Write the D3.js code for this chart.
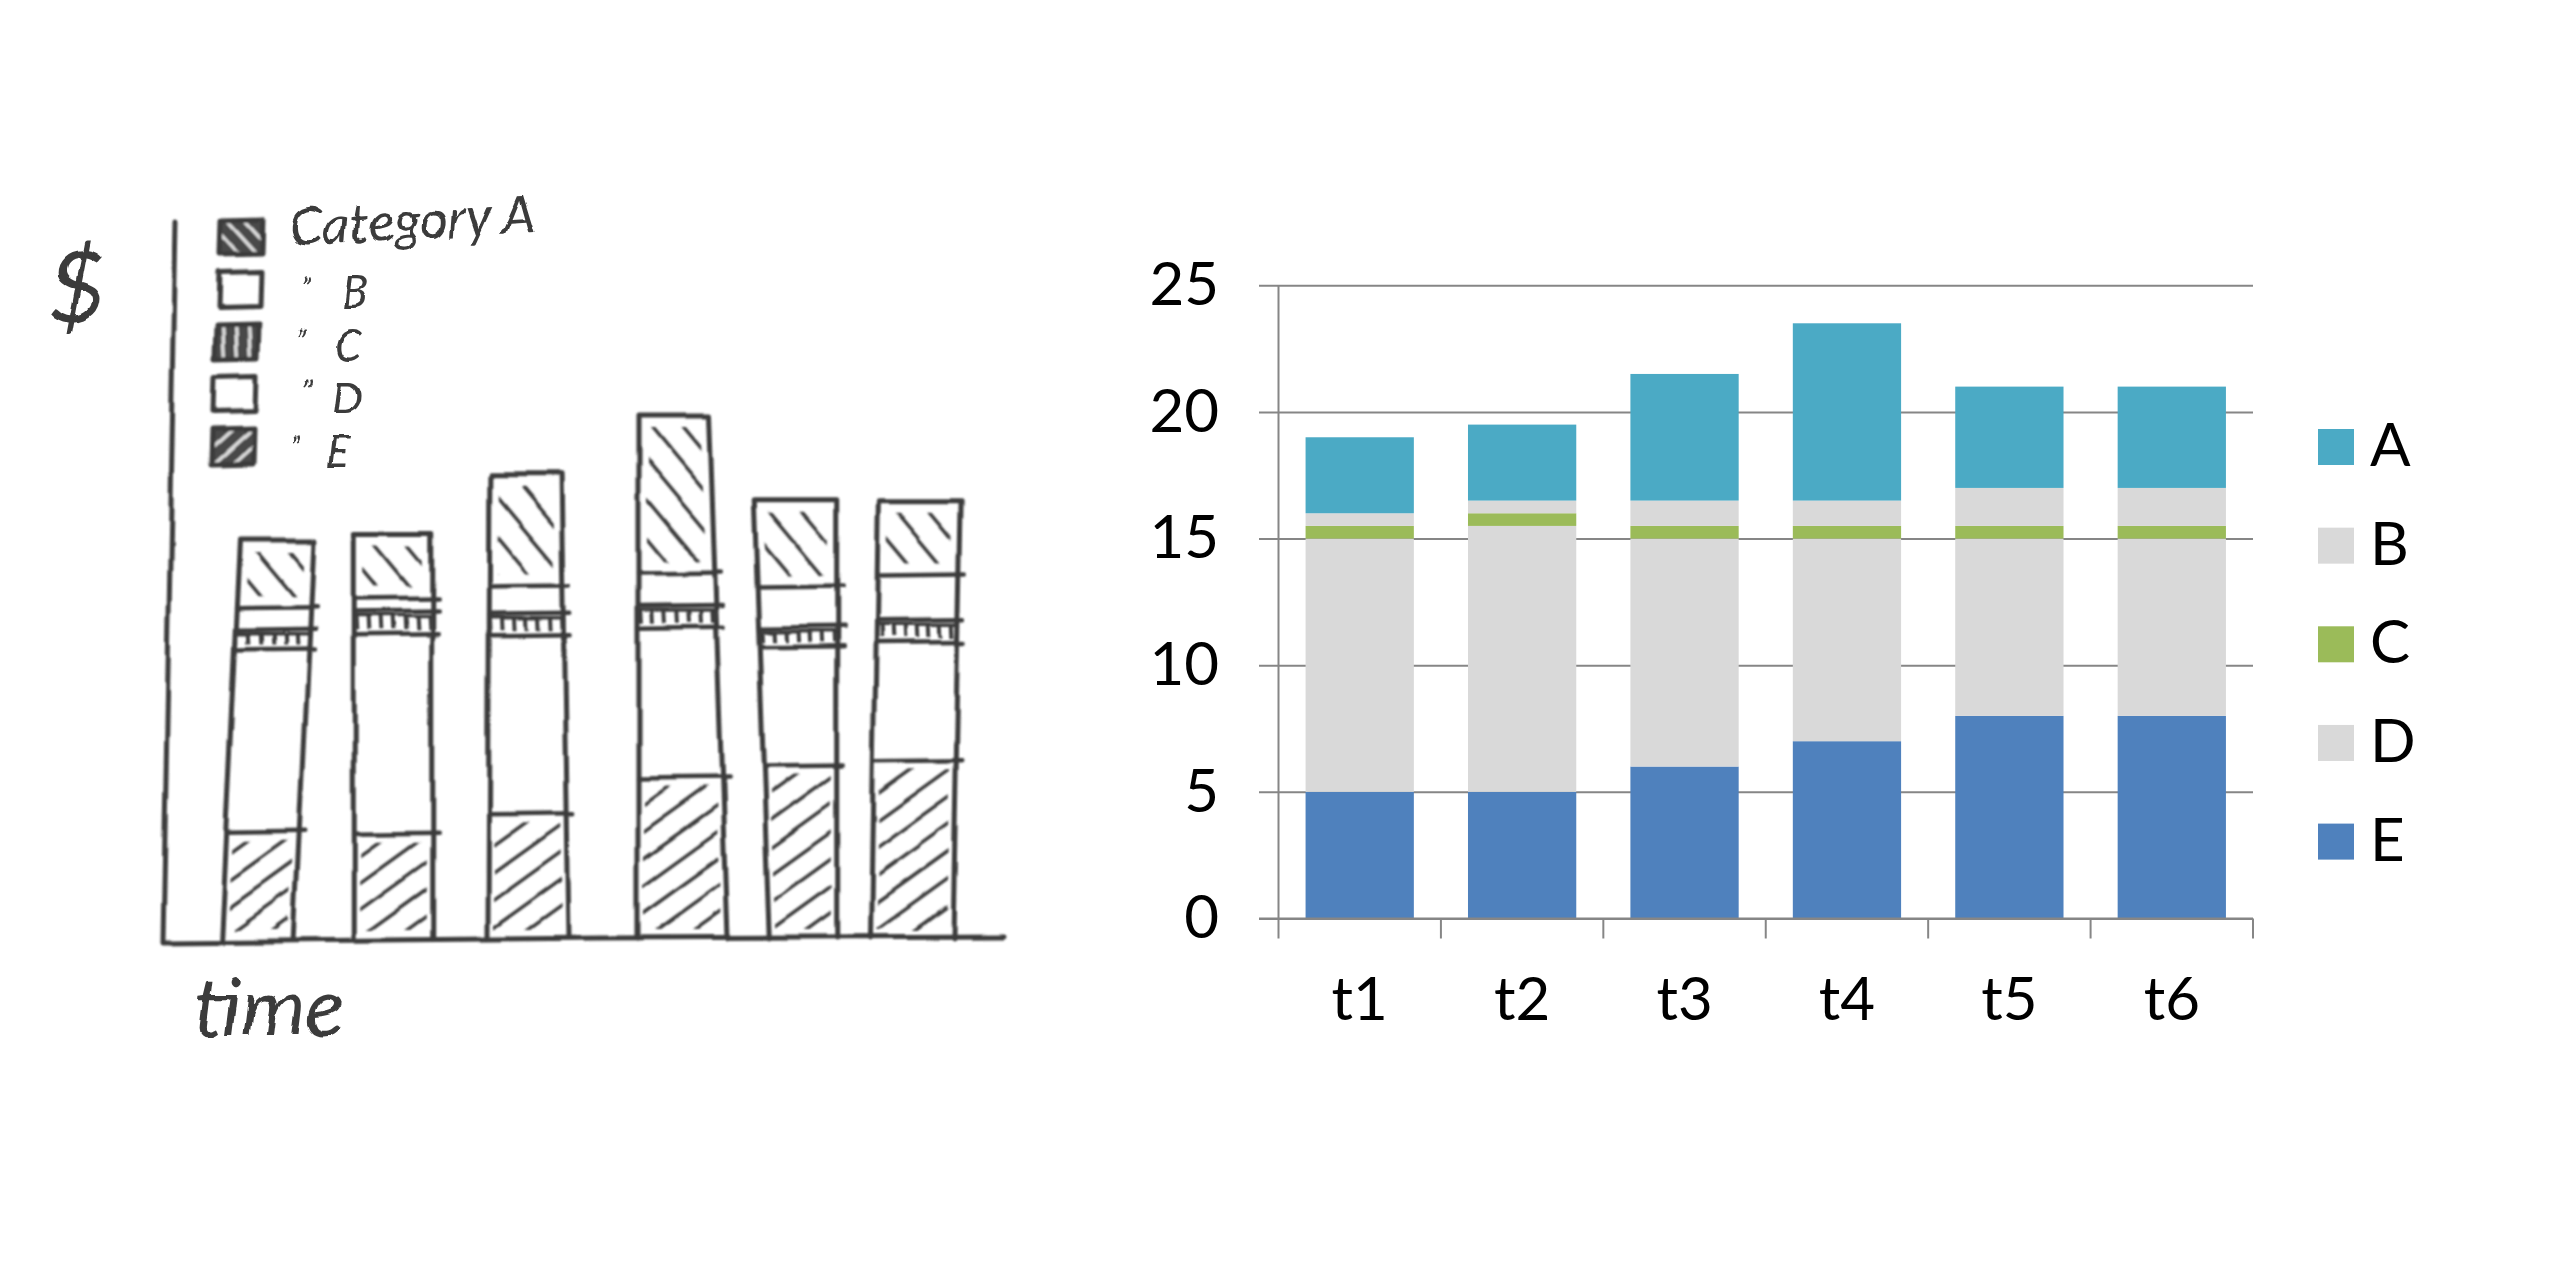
<!DOCTYPE html>
<html>
<head>
<meta charset="utf-8">
<script src="https://cdn.jsdelivr.net/npm/d3@7"></script>
<style>
  html, body { margin: 0; background: #fff; }
  svg { display: block; }
</style>
</head>
<body>
<svg id="figure" width="2560" height="1280"></svg>
<script>
// Excel style stacked chart (right)
const categories = ["t1", "t2", "t3", "t4", "t5", "t6"];
const seriesE = [5, 5, 6, 7, 8, 8];
const seriesD = [10, 10.5, 9, 8, 7, 7];
const seriesC = [0.5, 0.5, 0.5, 0.5, 0.5, 0.5];
const seriesB = [0.5, 0.5, 1, 1, 1.5, 1.5];
const seriesA = [3, 3, 5, 7, 4, 4];
const yTicks = [0, 5, 10, 15, 20, 25];
const legendNames = ["A", "B", "C", "D", "E"];

// Hand drawn sketch (left), same stack in the same units
const sketchE = [4.85, 4.8, 5.7, 7.35, 7.9, 8.15];
const sketchD = [8.45, 9.1, 8.2, 6.95, 5.5, 5.45];
const sketchC = [0.9, 1.1, 1.0, 1.0, 0.9, 1.0];
const sketchB = [1.0, 0.6, 1.3, 1.5, 1.9, 2.1];
const sketchA = [3.1, 3.0, 5.1, 7.3, 4.0, 3.4];
// position along the time axis, width at foot and head of each bar, lean of head
const sketchTime = [1.0, 2.08, 3.16, 4.4, 5.36, 6.23];
const sketchFoot = [0.58, 0.62, 0.64, 0.72, 0.54, 0.66];
const sketchHead = [0.58, 0.62, 0.57, 0.58, 0.66, 0.67];
const sketchLean = [0.15, 0, -0.02, -0.07, -0.06, 0.06];
const sketchLegend = ["Category A", "B", "C", "D", "E"];

const COLORS = { A: "#4BAAC5", B: "#D9D9D9", C: "#9BBB59", D: "#D9D9D9", E: "#4F81BD" };
const GRID = "#868686";
const INK = "#3a3a3a";
const FONT = "Lato, Carlito, Calibri, sans-serif";

const svg = d3.select("#figure");
svg.append("rect").attr("width", 2560).attr("height", 1280).attr("fill", "#fff");

const defs = svg.append("defs");

const wobble = defs.append("filter").attr("id", "wobble")
  .attr("filterUnits", "userSpaceOnUse")
  .attr("x", 0).attr("y", 0).attr("width", 1100).attr("height", 1280);
wobble.append("feTurbulence").attr("type", "fractalNoise")
  .attr("baseFrequency", 0.012).attr("numOctaves", 2).attr("seed", 4).attr("result", "n");
wobble.append("feDisplacementMap").attr("in", "SourceGraphic").attr("in2", "n")
  .attr("scale", 9).attr("xChannelSelector", "R").attr("yChannelSelector", "G").attr("result", "d");
wobble.append("feGaussianBlur").attr("in", "d").attr("stdDeviation", 0.8);

const penWriting = defs.append("filter").attr("id", "pen")
  .attr("filterUnits", "userSpaceOnUse")
  .attr("x", 0).attr("y", 0).attr("width", 1100).attr("height", 1280);
penWriting.append("feTurbulence").attr("type", "fractalNoise")
  .attr("baseFrequency", 0.04).attr("numOctaves", 2).attr("seed", 9).attr("result", "n");
penWriting.append("feDisplacementMap").attr("in", "SourceGraphic").attr("in2", "n")
  .attr("scale", 7).attr("xChannelSelector", "R").attr("yChannelSelector", "G").attr("result", "d");
penWriting.append("feGaussianBlur").attr("in", "d").attr("stdDeviation", 0.7);

// ---------- right chart ----------
const plotLeft = 1278.5, plotRight = 2253, plotBase = 918.5, plotTop = 285.3;
const stackKeys = ["E", "D", "C", "B", "A"];
const rows = categories.map((c, i) => ({
  cat: c, E: seriesE[i], D: seriesD[i], C: seriesC[i], B: seriesB[i], A: seriesA[i],
}));
const stacked = d3.stack().keys(stackKeys)(rows);

const x = d3.scaleBand().domain(categories).range([plotLeft, plotRight])
  .paddingInner(1 / 3).paddingOuter(1 / 6);
const y = d3.scaleLinear().domain([0, 25]).range([plotBase, plotTop]);

const chart = svg.append("g");

// gridlines also make the short stubs left of the axis
const yAxis = chart.append("g")
  .attr("transform", `translate(1259,0)`)
  .call(d3.axisLeft(y).tickValues(yTicks).tickSize(-(plotRight - 1259)).tickPadding(40));
yAxis.select(".domain").remove();
yAxis.selectAll("line").attr("stroke", GRID).attr("stroke-width", 2);
yAxis.selectAll("text").attr("font-family", FONT).attr("font-size", 60).attr("fill", "#000");

chart.selectAll("g.layer")
  .data(stacked)
  .join("g")
  .attr("class", "layer")
  .attr("fill", (d) => COLORS[d.key])
  .selectAll("rect")
  .data((d) => d)
  .join("rect")
  .attr("x", (d) => x(d.data.cat))
  .attr("y", (d) => y(d[1]))
  .attr("width", x.bandwidth())
  .attr("height", (d) => y(d[0]) - y(d[1]));

// x axis: ticks sit between the categories
const xAxis = chart.append("g")
  .attr("transform", `translate(0,${plotBase})`)
  .call(d3.axisBottom(x).tickSize(0).tickPadding(59));
xAxis.select(".domain").remove();
xAxis.selectAll("text").attr("font-family", FONT).attr("font-size", 60).attr("fill", "#000");

chart.append("line")
  .attr("x1", 1259).attr("x2", plotRight).attr("y1", plotBase).attr("y2", plotBase)
  .attr("stroke", GRID).attr("stroke-width", 2);
chart.append("line")
  .attr("x1", plotLeft).attr("x2", plotLeft).attr("y1", plotTop).attr("y2", plotBase + 20)
  .attr("stroke", GRID).attr("stroke-width", 2);
chart.selectAll("line.xtick")
  .data(d3.range(1, categories.length + 1))
  .join("line")
  .attr("class", "xtick")
  .attr("x1", (i) => plotLeft + i * x.step())
  .attr("x2", (i) => plotLeft + i * x.step())
  .attr("y1", plotBase)
  .attr("y2", plotBase + 20)
  .attr("stroke", GRID)
  .attr("stroke-width", 2);

// legend
const legY = d3.scalePoint().domain(legendNames).range([447, 841.6]);
const leg = chart.selectAll("g.leg").data(legendNames).join("g").attr("class", "leg");
leg.append("rect")
  .attr("x", 2318).attr("y", (d) => legY(d) - 18)
  .attr("width", 36).attr("height", 36)
  .attr("fill", (d) => COLORS[d]);
leg.append("text")
  .attr("x", 2370).attr("y", (d) => legY(d) + 19)
  .attr("font-family", FONT).attr("font-size", 60).attr("fill", "#000")
  .text((d) => d);

// ---------- left sketch ----------
const sketch = svg.append("g").attr("filter", "url(#wobble)");
const sx = d3.scaleLinear().domain([0, 7]).range([133, 1008]);
const sBase = 938;
const sy = d3.scaleLinear().domain([0, 25]).range([sBase, sBase - 25 * 21.7]);

const ink = (sel, w = 5) =>
  sel.attr("fill", "none").attr("stroke", INK).attr("stroke-width", w)
    .attr("stroke-linecap", "round").attr("stroke-linejoin", "round");

const lineGen = d3.line();

// axes
ink(sketch.append("path").attr("d", lineGen([[176, 220], [170, 560], [163, 942], [600, 938], [1004, 936]])), 5);

// edge position of bar i at stack height v (side -1 left, +1 right)
function edgeX(i, total, v, side) {
  const t = v / total;
  const centre = sketchTime[i] + sketchLean[i] * t;
  const w = sketchFoot[i] + (sketchHead[i] - sketchFoot[i]) * t;
  return sx(centre + (side * w) / 2);
}

// clipped parallel strokes, used for all the hatching
let clipId = 0;
function hatch(g, poly, dx, dy, spacing, width, colour = INK) {
  const id = "hatch" + clipId++;
  defs.append("clipPath").attr("id", id).append("polygon").attr("points", poly.join(" "));
  const xs = poly.map((p) => p[0]), ys = poly.map((p) => p[1]);
  const cx = d3.mean(xs), cy = d3.mean(ys);
  const len = Math.hypot(d3.max(xs) - d3.min(xs), d3.max(ys) - d3.min(ys));
  const n = Math.ceil(len / spacing);
  const ux = dx / Math.hypot(dx, dy), uy = dy / Math.hypot(dx, dy);
  const gh = g.append("g").attr("clip-path", `url(#${id})`);
  d3.range(-n, n + 1).forEach((k) => {
    const ox = cx - uy * k * spacing, oy = cy + ux * k * spacing;
    gh.append("line")
      .attr("x1", ox - ux * len).attr("y1", oy - uy * len)
      .attr("x2", ox + ux * len).attr("y2", oy + uy * len)
      .attr("stroke", colour).attr("stroke-width", width);
  });
}

categories.forEach((c, i) => {
  const g = sketch.append("g");
  const levels = [
    sketchE[i],
    sketchE[i] + sketchD[i],
    sketchE[i] + sketchD[i] + sketchC[i],
    sketchE[i] + sketchD[i] + sketchC[i] + sketchB[i],
  ];
  const total = levels[3] + sketchA[i];

  const segPoly = (v0, v1, padX, padY) => [
    [edgeX(i, total, v0, -1) + padX, sy(v0) - padY],
    [edgeX(i, total, v0, 1) - padX, sy(v0) - padY],
    [edgeX(i, total, v1, 1) - padX, sy(v1) + padY],
    [edgeX(i, total, v1, -1) + padX, sy(v1) + padY],
  ];

  hatch(g, segPoly(0, levels[0], 6, 8), 1, -0.72, 22, 3.5);
  hatch(g, segPoly(levels[1], levels[2], 2, 5), 0.05, 1, 12, 4);
  hatch(g, segPoly(levels[3], total, 9, 12), 1, 1.2, 25, 3.5);

  // outline
  ink(g.append("path").attr("d", lineGen([
    [edgeX(i, total, 0, -1), sBase],
    [edgeX(i, total, total, -1), sy(total)],
    [edgeX(i, total, total, 1), sy(total)],
    [edgeX(i, total, 0, 1), sBase],
  ])));
  levels.forEach((v) => {
    ink(g.append("line")
      .attr("x1", edgeX(i, total, v, -1)).attr("y1", sy(v))
      .attr("x2", edgeX(i, total, v, 1) + 6).attr("y2", sy(v) - 1), 4.5);
  });
  // second line that closes the top of the ticks
  ink(g.append("line")
    .attr("x1", edgeX(i, total, levels[2], -1)).attr("y1", sy(levels[2]) + 4)
    .attr("x2", edgeX(i, total, levels[2], 1)).attr("y2", sy(levels[2]) + 4), 3.5);
});

// sketch legend
const swatchY = d3.scalePoint().domain(sketchLegend).range([237, 447]);
const swatchShade = [[1, 1.1], null, [0.05, 1], null, [1, -0.9]];
sketchLegend.forEach((name, i) => {
  const cy = swatchY(name);
  const xOff = -i * 2;
  const poly = [
    [221 + xOff, cy - 17], [263 + xOff, cy - 18],
    [262 + xOff, cy + 17], [220 + xOff, cy + 18],
  ];
  const g = sketch.append("g");
  const shade = swatchShade[i];
  if (shade) {
    g.append("polygon").attr("points", poly.join(" ")).attr("fill", "#4a4a4a");
    hatch(g, poly, shade[0], shade[1], 13, 3.5, "#dcdcdc");
  }
  ink(g.append("polygon").attr("points", poly.join(" ")));
});

// handwriting, kept as real text
const writing = svg.append("g").attr("filter", "url(#pen)")
  .attr("font-family", "Lato, sans-serif").attr("font-style", "italic")
  .attr("font-weight", 400).attr("fill", INK);

writing.append("text")
  .attr("transform", "translate(290,246) rotate(-3)")
  .attr("font-size", 54)
  .text(sketchLegend[0]);

const handX = [342, 334, 332, 326];
const handY = [308, 361, 414, 467];
const dittoX = [300, 296, 302, 290];
sketchLegend.slice(1).forEach((name, i) => {
  writing.append("text")
    .attr("x", dittoX[i]).attr("y", handY[i] - 8)
    .attr("font-size", 32)
    .text("\u201D");
  writing.append("text")
    .attr("x", handX[i]).attr("y", handY[i])
    .attr("font-size", 44)
    .text(name);
});

writing.append("text")
  .attr("x", 48).attr("y", 322)
  .attr("font-size", 100)
  .text("$");

writing.append("text")
  .attr("x", 194).attr("y", 1036)
  .attr("font-size", 82)
  .text("time");
</script>
</body>
</html>
